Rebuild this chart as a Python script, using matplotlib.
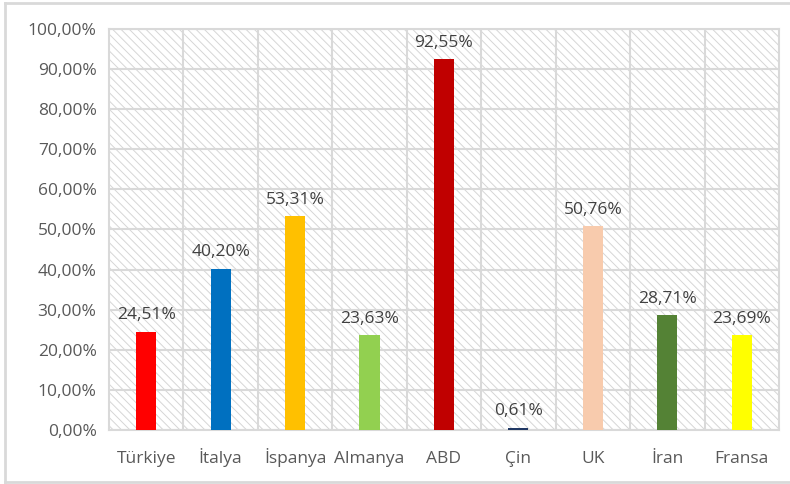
import matplotlib
matplotlib.use('Agg')
import matplotlib.pyplot as plt
from matplotlib.patches import Rectangle
from matplotlib.lines import Line2D

countries = ["Türkiye", "İtalya", "İspanya", "Almanya", "ABD", "Çin", "UK", "İran", "Fransa"]
values = [24.51, 40.20, 53.31, 23.63, 92.55, 0.61, 50.76, 28.71, 23.69]
colors = ["#FF0000", "#0070C0", "#FFC000", "#92D050", "#C00000",
          "#203864", "#F8CBAD", "#548235", "#FFFF00"]
yticks = [0, 10, 20, 30, 40, 50, 60, 70, 80, 90, 100]

plt.rcParams['font.family'] = ['Open Sans', 'DejaVu Sans']
plt.rcParams['hatch.linewidth'] = 0.7
plt.rcParams['hatch.color'] = '#D6D6D6'

GRID = '#D9D9D9'
TXT = '#595959'
FS = 12.5


def pct(v):
    return "{:.2f}%".format(v).replace('.', ',')


fig = plt.figure(figsize=(7.9, 4.84), dpi=100)
ax = fig.add_axes([0.138, 0.1116, 0.848, 0.8285])

# hatched plot area background
ax.add_patch(Rectangle((0, 0), 1, 1, transform=ax.transAxes, facecolor='white',
                       edgecolor='#D6D6D6', hatch='\\\\\\\\', linewidth=0, zorder=0))

x = list(range(len(countries)))
ax.bar(x, values, width=0.27, color=colors, zorder=3)

for xi, v in zip(x, values):
    ax.annotate(pct(v), (xi, v), xytext=(0, 6), textcoords='offset points',
                ha='center', va='bottom', fontsize=FS, color='#404040', zorder=4)

ax.set_xlim(-0.5, len(countries) - 0.5)
ax.set_ylim(0, 100)
ax.set_yticks(yticks)
ax.set_yticklabels([pct(t) for t in yticks])
ax.set_xticks(x)
ax.set_xticklabels(countries)
ax.tick_params(axis='both', length=0, labelsize=FS, labelcolor=TXT)
ax.tick_params(axis='y', pad=9)
ax.tick_params(axis='x', pad=23.5)
for lab in ax.get_xticklabels():
    lab.set_verticalalignment('baseline')

# grid: horizontal at ticks, vertical between categories
for t in yticks:
    ax.axhline(t, color=GRID, linewidth=1.5, zorder=1)
for b in [i + 0.5 for i in range(len(countries) - 1)]:
    ax.axvline(b, color=GRID, linewidth=1.5, zorder=1)
for s in ax.spines.values():
    s.set_color(GRID)
    s.set_linewidth(1.5)

# outer chart border
l, r, b_, t_ = 4.5 / 790, 789 / 790, 2.5 / 484, 481 / 484
for xs, ys in [([l, r], [t_, t_]), ([l, r], [b_, b_]), ([l, l], [b_, t_])]:
    fig.add_artist(Line2D(xs, ys, color=GRID, linewidth=2, transform=fig.transFigure))

fig.savefig('out.png', dpi=100)
